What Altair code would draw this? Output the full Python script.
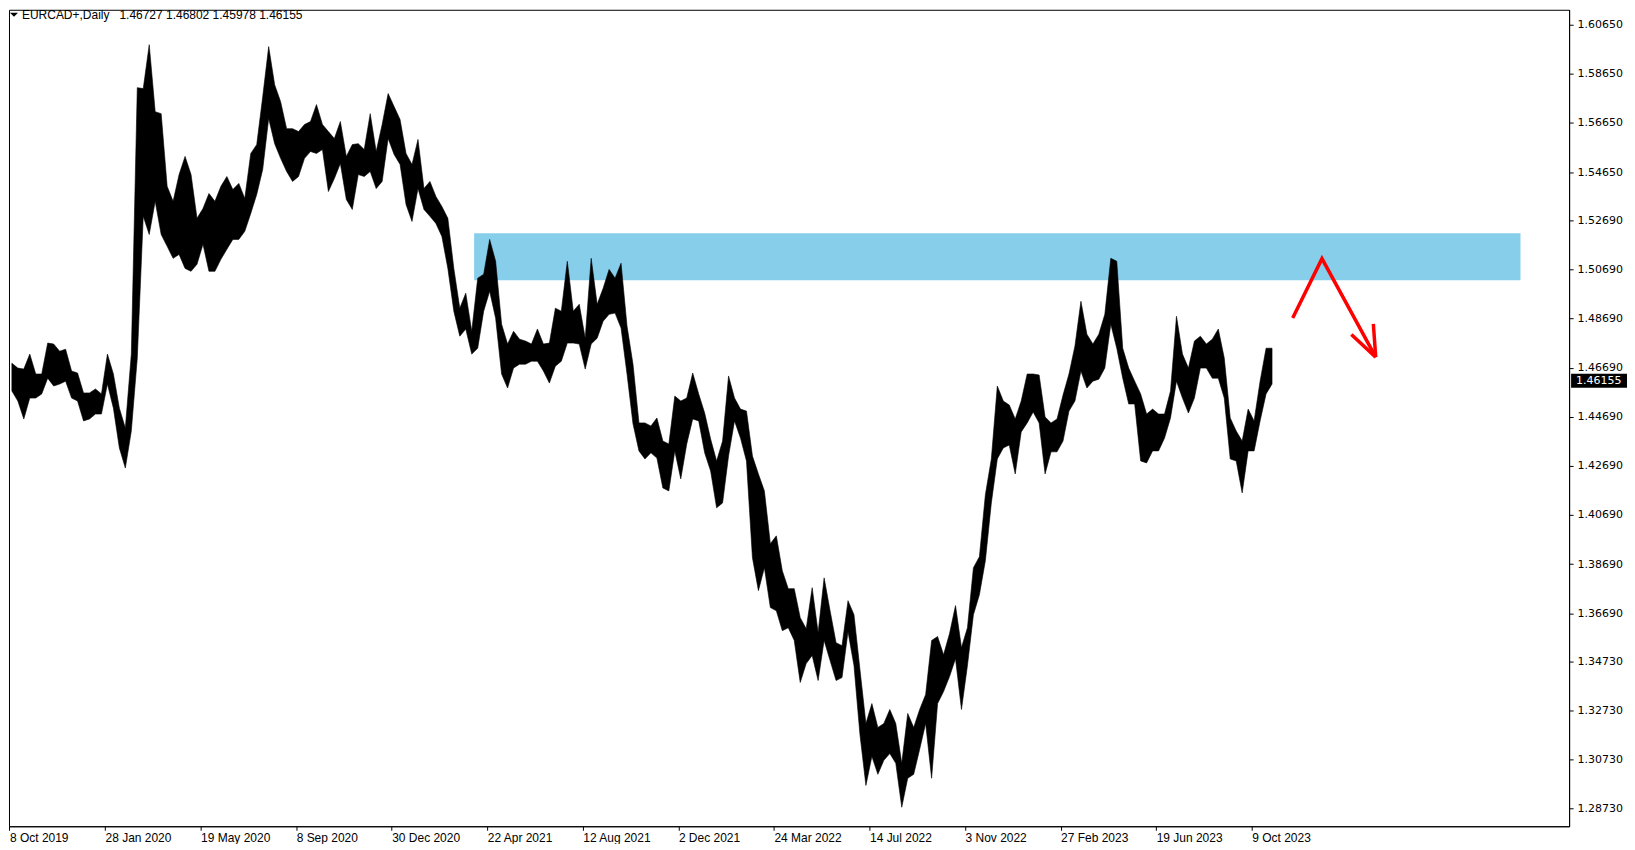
import altair as alt
import pandas as pd

# Weekly (5-bar) high/low envelope of EURCAD daily bars
highs = [
    1.4687, 1.4667, 1.4663, 1.4724, 1.4643, 1.4643, 1.4769, 1.4765, 1.4736, 1.4744,
    1.4655, 1.4647, 1.4566, 1.4566, 1.4582, 1.4562, 1.4724, 1.4643, 1.4504, 1.4423,
    1.4724, 1.5809, 1.5805, 1.5984, 1.5711, 1.5703, 1.5407, 1.5346, 1.5455, 1.5529,
    1.5455, 1.5277, 1.5317, 1.5378, 1.5346, 1.5407, 1.5447, 1.5394, 1.5419, 1.5358,
    1.5541, 1.5577, 1.5772, 1.5976, 1.5821, 1.5752, 1.5642, 1.5642, 1.5630, 1.5659,
    1.5671, 1.5740, 1.5659, 1.5630, 1.5602, 1.5671, 1.5529, 1.5577, 1.5581, 1.5557,
    1.5703, 1.5549, 1.5659, 1.5785, 1.5732, 1.5679, 1.5541, 1.5496, 1.5598, 1.5398,
    1.5427, 1.5366, 1.5325, 1.5277, 1.5073, 1.4911, 1.4972, 1.4817, 1.5033, 1.5049,
    1.5191, 1.5102, 1.4846, 1.4765, 1.4817, 1.4785, 1.4777, 1.4765, 1.4826, 1.4765,
    1.4769, 1.4911, 1.4899, 1.5102, 1.4899, 1.4927, 1.4789, 1.5114, 1.4927, 1.4992,
    1.5069, 1.5033, 1.5094, 1.4838, 1.4683, 1.4444, 1.4444, 1.4431, 1.4464, 1.4370,
    1.4358, 1.4553, 1.4533, 1.4545, 1.4647, 1.4562, 1.4484, 1.4378, 1.4289, 1.4370,
    1.4635, 1.4545, 1.4500, 1.4492, 1.4309, 1.4236, 1.4167, 1.3952, 1.3984, 1.3842,
    1.3769, 1.3769, 1.3651, 1.3606, 1.3773, 1.3590, 1.3813, 1.3679, 1.3549, 1.3537,
    1.3720, 1.3663, 1.3440, 1.3220, 1.3301, 1.3204, 1.3220, 1.3277, 1.3220, 1.3058,
    1.3261, 1.3204, 1.3277, 1.3338, 1.3558, 1.3574, 1.3500, 1.3586, 1.3700, 1.3529,
    1.3610, 1.3854, 1.3899, 1.4151, 1.4297, 1.4594, 1.4533, 1.4517, 1.4460, 1.4533,
    1.4643, 1.4643, 1.4639, 1.4468, 1.4444, 1.4460, 1.4557, 1.4643, 1.4757, 1.4939,
    1.4805, 1.4765, 1.4805, 1.4886, 1.5114, 1.5102, 1.4748, 1.4667, 1.4614, 1.4562,
    1.4480, 1.4500, 1.4480, 1.4480, 1.4574, 1.4878, 1.4724, 1.4667, 1.4777, 1.4797,
    1.4765, 1.4785, 1.4826, 1.4708, 1.4464, 1.4411, 1.4370, 1.4500, 1.4452, 1.4614,
    1.4748, 1.4748,
]
lows = [
    1.4574, 1.4533, 1.4460, 1.4545, 1.4545, 1.4562, 1.4626, 1.4594, 1.4602, 1.4614,
    1.4545, 1.4533, 1.4452, 1.4460, 1.4480, 1.4480, 1.4602, 1.4504, 1.4342, 1.4260,
    1.4411, 1.4708, 1.5285, 1.5211, 1.5346, 1.5211, 1.5163, 1.5114, 1.5130, 1.5073,
    1.5061, 1.5090, 1.5171, 1.5061, 1.5061, 1.5110, 1.5151, 1.5191, 1.5191, 1.5224,
    1.5297, 1.5374, 1.5476, 1.5683, 1.5581, 1.5521, 1.5468, 1.5427, 1.5447, 1.5521,
    1.5549, 1.5541, 1.5557, 1.5386, 1.5439, 1.5500, 1.5354, 1.5313, 1.5455, 1.5447,
    1.5468, 1.5398, 1.5427, 1.5602, 1.5537, 1.5496, 1.5333, 1.5264, 1.5398, 1.5313,
    1.5285, 1.5256, 1.5203, 1.5073, 1.4899, 1.4797, 1.4826, 1.4724, 1.4748, 1.4899,
    1.4980, 1.4870, 1.4643, 1.4586, 1.4667, 1.4683, 1.4683, 1.4695, 1.4695, 1.4655,
    1.4606, 1.4675, 1.4695, 1.4769, 1.4769, 1.4765, 1.4663, 1.4765, 1.4789, 1.4858,
    1.4886, 1.4891, 1.4830, 1.4643, 1.4440, 1.4330, 1.4297, 1.4322, 1.4301, 1.4179,
    1.4167, 1.4330, 1.4216, 1.4358, 1.4460, 1.4452, 1.4322, 1.4248, 1.4098, 1.4118,
    1.4309, 1.4452, 1.4382, 1.4289, 1.3895, 1.3761, 1.3854, 1.3692, 1.3679, 1.3598,
    1.3610, 1.3558, 1.3387, 1.3464, 1.3497, 1.3395, 1.3558, 1.3476, 1.3395, 1.3407,
    1.3594, 1.3456, 1.3175, 1.2968, 1.3086, 1.3013, 1.3070, 1.3098, 1.3058, 1.2879,
    1.2997, 1.3013, 1.3115, 1.3220, 1.2997, 1.3301, 1.3350, 1.3411, 1.3484, 1.3277,
    1.3456, 1.3663, 1.3744, 1.3883, 1.4118, 1.4297, 1.4342, 1.4354, 1.4236, 1.4407,
    1.4444, 1.4488, 1.4444, 1.4236, 1.4326, 1.4326, 1.4370, 1.4492, 1.4533, 1.4655,
    1.4586, 1.4614, 1.4622, 1.4667, 1.4846, 1.4748, 1.4626, 1.4521, 1.4521, 1.4289,
    1.4281, 1.4330, 1.4330, 1.4382, 1.4464, 1.4614, 1.4545, 1.4484, 1.4545, 1.4667,
    1.4667, 1.4626, 1.4626, 1.4545, 1.4297, 1.4289, 1.4159, 1.4330, 1.4330, 1.4452,
    1.4562, 1.4602,
]
# bar index (trading day count from 8 Oct 2019) at the middle of each weekly sample
bar_index = [5 * k + 2 for k in range(len(highs))]

x_tick_bars = [80 * k for k in range(14)]
x_tick_labels = ["8 Oct 2019", "28 Jan 2020", "19 May 2020", "8 Sep 2020", "30 Dec 2020",
                 "22 Apr 2021", "12 Aug 2021", "2 Dec 2021", "24 Mar 2022", "14 Jul 2022",
                 "3 Nov 2022", "27 Feb 2023", "19 Jun 2023", "9 Oct 2023"]
y_ticks = [1.6065, 1.5865, 1.5665, 1.5465, 1.5269, 1.5069, 1.4869, 1.4669, 1.4469,
           1.4269, 1.4069, 1.3869, 1.3669, 1.3473, 1.3273, 1.3073, 1.2873]

zone_bars = [389, 1265]
zone_prices = [1.50246, 1.52156]

arrow_seg = [0, 0, 0, 1, 1, 2, 2]
arrow_order = [0, 1, 2, 0, 1, 0, 1]
arrow_bar = [1074.3, 1098.8, 1143.8, 1123.4, 1143.8, 1141.8, 1143.8]
arrow_price = [1.48714, 1.51128, 1.47117, 1.48039, 1.47117, 1.48470, 1.47117]

title_text = "EURCAD+,Daily\u00a0\u00a0 1.46727 1.46802 1.45978 1.46155"
last_close = 1.46155

W, H = 1563, 818
xscale = alt.Scale(domain=[-0.4, 1305.7], nice=False, zero=False)
yscale = alt.Scale(domain=[1.28016, 1.6126], nice=False, zero=False)

label_arr = "[" + ",".join("'" + s + "'" for s in x_tick_labels) + "]"
xaxis = alt.Axis(values=x_tick_bars, labelExpr=label_arr + "[round(datum.value/80)]",
                 orient="bottom", grid=False, title=None, tickSize=4, tickColor="black",
                 domainColor="black", labelAlign="left", labelBaseline="top", labelPadding=2,
                 labelFont="Liberation Sans", labelFontSize=12, labelColor="black",
                 labelOverlap=False, labelFlush=False, labelBound=False)
yaxis = alt.Axis(values=y_ticks, format=".5f", orient="right", grid=False, title=None,
                 tickSize=4, tickColor="black", domainColor="black", labelPadding=4,
                 labelFont="DejaVu Sans", labelFontSize=11, labelColor="black",
                 labelOverlap=False, labelFlush=False, labelBound=False)

df = pd.DataFrame({"bar": bar_index, "high": highs, "low": lows})
zone_df = pd.DataFrame({"b0": [zone_bars[0]], "b1": [zone_bars[1]],
                        "p0": [zone_prices[0]], "p1": [zone_prices[1]]})
arrow_df = pd.DataFrame({"seg": arrow_seg, "ord": arrow_order,
                         "bar": arrow_bar, "price": arrow_price})

zone = alt.Chart(zone_df).mark_rect(color="#87CEEB").encode(
    x=alt.X("b0:Q", scale=xscale, axis=xaxis), x2="b1:Q",
    y=alt.Y("p0:Q", scale=yscale, axis=yaxis), y2="p1:Q")

price = alt.Chart(df).mark_area(color="black", stroke="black", strokeWidth=0.6,
                                interpolate="linear", clip=True).encode(
    x=alt.X("bar:Q", scale=xscale, axis=xaxis),
    y=alt.Y("high:Q", scale=yscale, axis=yaxis), y2="low:Q")

arrow = alt.Chart(arrow_df).mark_line(color="#ff0000", strokeWidth=3.5).encode(
    x=alt.X("bar:Q", scale=xscale, axis=xaxis),
    y=alt.Y("price:Q", scale=yscale, axis=yaxis),
    detail="seg:N", order="ord:Q")

title = alt.Chart(pd.DataFrame({"t": [title_text]})).mark_text(
    align="left", baseline="middle", font="Liberation Sans", fontSize=12, color="black"
).encode(text="t:N", x=alt.value(13), y=alt.value(5))

tri = alt.Chart(pd.DataFrame({"t": [0]})).mark_point(
    shape="M-1,-0.5L1,-0.5L0,0.5Z", size=64, filled=True, color="black", opacity=1
).encode(x=alt.value(5), y=alt.value(5))

box = alt.Chart(pd.DataFrame({"p": [last_close]})).mark_point(
    shape="M-1,-0.25L1,-0.25L1,0.25L-1,0.25Z", size=3136, filled=True, color="black", opacity=1
).encode(x=alt.value(1593), y=alt.Y("p:Q", scale=yscale, axis=yaxis))

box_text = alt.Chart(pd.DataFrame({"p": [last_close], "t": [f"{last_close:.5f}"]})).mark_text(
    align="left", baseline="middle", font="DejaVu Sans", fontSize=11, color="white"
).encode(x=alt.value(1570), y=alt.Y("p:Q", scale=yscale, axis=yaxis), text="t:N")

chart = alt.layer(zone, price, arrow, title, tri, box, box_text).properties(
    width=W, height=H, padding={"left": 0, "top": 0, "right": 0, "bottom": 0},
    background="white"
).configure_view(stroke="black", strokeWidth=1)

chart.save("out.html", embed_options={"renderer": "svg", "actions": False})
